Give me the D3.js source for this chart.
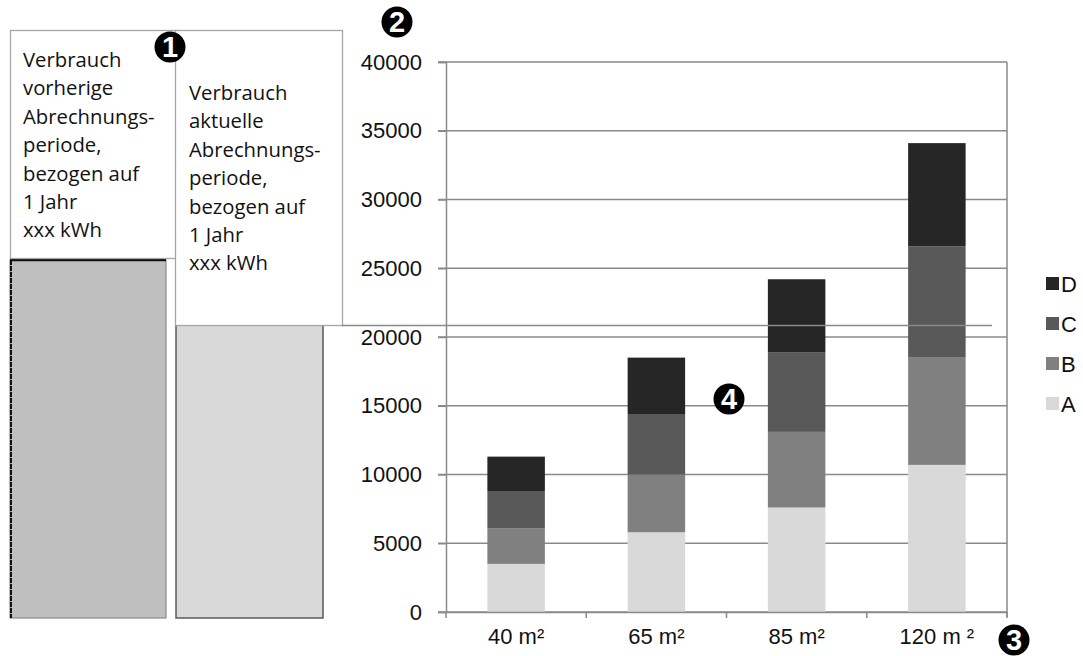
<!DOCTYPE html>
<html>
<head>
<meta charset="utf-8">
<script src="https://cdn.jsdelivr.net/npm/d3@7"></script>
<style>
  body { margin: 0; background: #fff; }
  svg { display: block; }
</style>
</head>
<body>
<div id="chart"></div>
<script>
// data
const categories = ["40 m²", "65 m²", "85 m²", "120 m ²"];
const seriesKeys = ["A", "B", "C", "D"];
const valuesA = [3500, 5800, 7600, 10700];
const valuesB = [2600, 4200, 5500, 7800];
const valuesC = [2700, 4400, 5800, 8100];
const valuesD = [2500, 4100, 5300, 7500];
const yTicks = [0, 5000, 10000, 15000, 20000, 25000, 30000, 35000, 40000];
const boxPrev = ["Verbrauch", "vorherige", "Abrechnungs-", "periode,", "bezogen auf", "1 Jahr", "xxx kWh"];
const boxCurr = ["Verbrauch", "aktuelle", "Abrechnungs-", "periode,", "bezogen auf", "1 Jahr", "xxx kWh"];

const colors = { A: "#d9d9d9", B: "#808080", C: "#595959", D: "#262626" };
const font = "'Liberation Sans', Arial, sans-serif";

const rows = categories.map((c, i) => ({
    cat: c, A: valuesA[i], B: valuesB[i], C: valuesC[i], D: valuesD[i]
}));

const svg = d3.select("#chart")
    .append("svg")
    .attr("width", 1083)
    .attr("height", 656);

// left illustration: two bars with text boxes
svg.append("rect").attr("x", 10).attr("y", 260).attr("width", 156).attr("height", 358)
    .attr("fill", "#bfbfbf").attr("stroke", "#8c8c8c").attr("stroke-width", 1.2);
svg.append("line").attr("x1", 10).attr("x2", 166).attr("y1", 260).attr("y2", 260)
    .attr("stroke", "#111").attr("stroke-width", 2.5);
svg.append("line").attr("x1", 11).attr("x2", 11).attr("y1", 260).attr("y2", 618)
    .attr("stroke", "#111").attr("stroke-width", 2).attr("stroke-dasharray", "5,1");

svg.append("rect").attr("x", 176).attr("y", 322).attr("width", 147).attr("height", 296)
    .attr("fill", "#d9d9d9").attr("stroke", "#595959").attr("stroke-width", 1.5);

function textBox(x, y, w, h, lines, tx, ty) {
    svg.append("rect").attr("x", x).attr("y", y).attr("width", w).attr("height", h)
        .attr("fill", "#fff").attr("stroke", "#a6a6a6").attr("stroke-width", 1.3);
    svg.append("text")
        .attr("font-family", "'Open Sans', sans-serif")
        .attr("font-size", 20.3)
        .attr("fill", "#111")
        .selectAll("tspan")
        .data(lines)
        .join("tspan")
        .attr("x", tx)
        .attr("y", (d, i) => ty + i * 28.4)
        .text(d => d);
}
textBox(10.5, 30.5, 166, 228, boxPrev, 23, 67);
textBox(175.5, 30.5, 167, 295, boxCurr, 189, 100);

// main chart
const margin = { left: 446, right: 1007, top: 62, bottom: 612 };

const x = d3.scaleBand()
    .domain(categories)
    .range([margin.left, margin.right])
    .paddingInner(0.59)
    .paddingOuter(0.295);

const y = d3.scaleLinear()
    .domain([0, 40000])
    .range([margin.bottom, margin.top]);

// gridlines
svg.append("g")
    .selectAll("line")
    .data(yTicks)
    .join("line")
    .attr("x1", margin.left - 8)
    .attr("x2", margin.right)
    .attr("y1", d => y(d))
    .attr("y2", d => y(d))
    .attr("stroke", "#8a8a8a")
    .attr("stroke-width", 1.5);

// right border
svg.append("line")
    .attr("x1", margin.right).attr("x2", margin.right)
    .attr("y1", margin.top).attr("y2", margin.bottom + 5)
    .attr("stroke", "#8a8a8a").attr("stroke-width", 1.5);

// stacked bars
const stack = d3.stack().keys(seriesKeys);
svg.append("g")
    .selectAll("g")
    .data(stack(rows))
    .join("g")
    .attr("fill", d => colors[d.key])
    .selectAll("rect")
    .data(d => d)
    .join("rect")
    .attr("x", d => x(d.data.cat))
    .attr("width", x.bandwidth())
    .attr("y", d => y(d[1]))
    .attr("height", d => y(d[0]) - y(d[1]));

// y axis
const yAxis = svg.append("g")
    .attr("transform", `translate(${margin.left},0)`)
    .call(d3.axisLeft(y).tickValues(yTicks).tickSize(8).tickPadding(16).tickFormat(d3.format("d")));
yAxis.select(".domain").attr("stroke", "#8a8a8a").attr("stroke-width", 1.5);
yAxis.selectAll(".tick line").attr("stroke", "#8a8a8a").attr("stroke-width", 1.5);
yAxis.selectAll("text")
    .attr("font-family", font)
    .attr("font-size", 22)
    .attr("fill", "#111");

// x axis
const xAxis = svg.append("g")
    .attr("transform", `translate(0,${margin.bottom})`)
    .call(d3.axisBottom(x).tickSize(0).tickPadding(16));
xAxis.select(".domain").attr("stroke", "#8a8a8a").attr("stroke-width", 1.5);
xAxis.selectAll("text")
    .attr("font-family", font)
    .attr("font-size", 22)
    .attr("fill", "#111");
// category boundary ticks
const step = x.step();
svg.append("g")
    .selectAll("line")
    .data(d3.range(categories.length + 1))
    .join("line")
    .attr("x1", d => margin.left + d * step)
    .attr("x2", d => margin.left + d * step)
    .attr("y1", margin.bottom)
    .attr("y2", margin.bottom + 6)
    .attr("stroke", "#8a8a8a")
    .attr("stroke-width", 1.5);

// horizontal line from the text box into the chart
svg.append("line")
    .attr("x1", 342).attr("x2", 992)
    .attr("y1", 325.5).attr("y2", 325.5)
    .attr("stroke", "#8a8a8a").attr("stroke-width", 1.3);

// legend
const legend = svg.append("g")
    .selectAll("g")
    .data(seriesKeys.slice().reverse())
    .join("g")
    .attr("transform", (d, i) => `translate(1046,${284 + i * 40})`);
legend.append("rect")
    .attr("x", 0).attr("y", -7)
    .attr("width", 13).attr("height", 13)
    .attr("fill", d => colors[d]);
legend.append("text")
    .attr("x", 15).attr("y", 0).attr("dy", "0.36em")
    .attr("font-family", font)
    .attr("font-size", 22)
    .attr("fill", "#111")
    .text(d => d);

// numbered markers
const markers = [
    { n: "1", cx: 170, cy: 47 },
    { n: "2", cx: 397, cy: 22 },
    { n: "3", cx: 1014, cy: 640 },
    { n: "4", cx: 729, cy: 399 }
];
const mk = svg.append("g")
    .selectAll("g")
    .data(markers)
    .join("g")
    .attr("transform", d => `translate(${d.cx},${d.cy})`);
mk.append("circle").attr("r", 15.5).attr("fill", "#000");
mk.append("text")
    .attr("text-anchor", "middle")
    .attr("dy", "0.36em")
    .attr("font-family", font)
    .attr("font-weight", "bold")
    .attr("font-size", 29)
    .attr("fill", "#fff")
    .text(d => d.n);
</script>
</body>
</html>
